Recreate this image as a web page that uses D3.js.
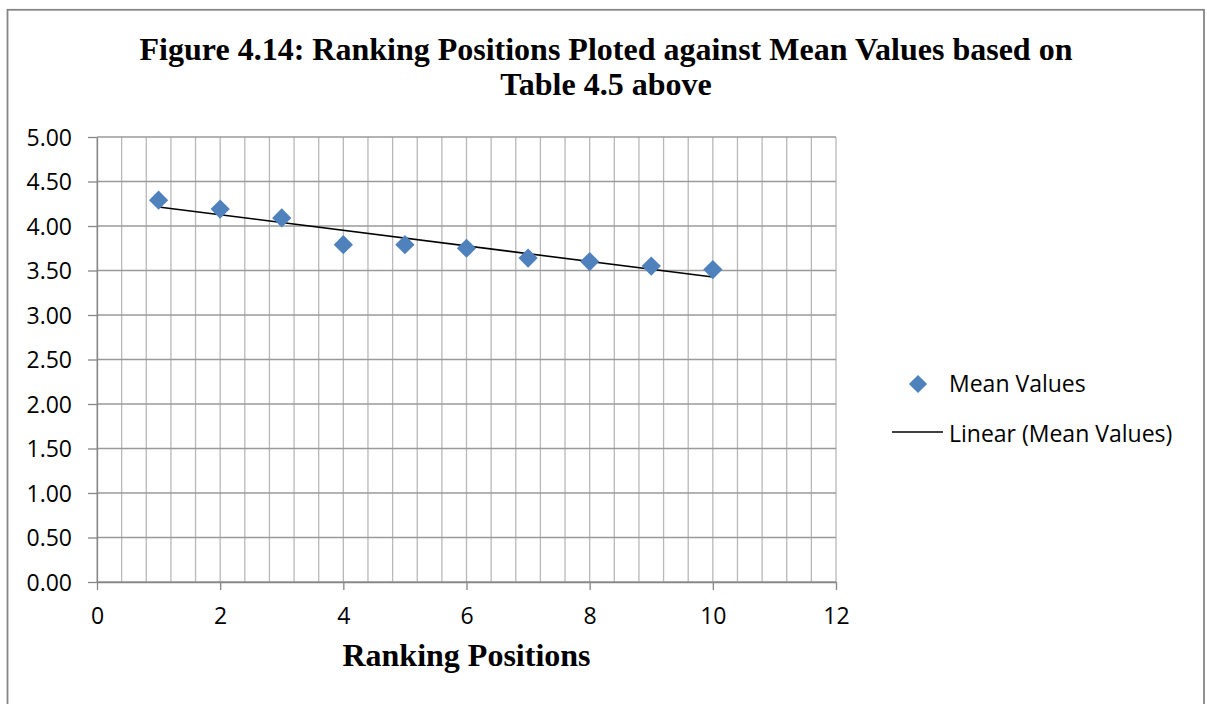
<!DOCTYPE html>
<html>
<head>
<meta http-equiv="Content-Type" content="text/html;charset=utf-8"/>
<script src="https://d3js.org/d3.v7.min.js"></script>
<style type="text/css">
body {
  margin: 0;
  background: #fff;
}
.frame {
  fill: #fff;
  stroke: #868686;
  stroke-width: 1.8px;
}
.grid line {
  stroke: #b8b8b8;
  stroke-width: 1.3px;
}
.grid .major {
  stroke: #9a9a9a;
}
.axis path, .axis line {
  stroke: #868686;
  stroke-width: 1.3px;
}
.axis text, .legend text {
  font-family: "Open Sans", sans-serif;
  font-size: 23px;
  fill: #000;
}
.title, .xtitle {
  font-family: "Liberation Serif", "Times New Roman", serif;
  font-weight: bold;
  font-size: 32px;
  fill: #000;
}
.point {
  fill: #4F81BD;
}
.trend {
  fill: none;
  stroke: #000;
  stroke-width: 1.6px;
}
</style>
</head>

<body>
<script>

// data
var ranks = [1, 2, 3, 4, 5, 6, 7, 8, 9, 10];
var meanValues = [4.29, 4.19, 4.09, 3.79, 3.79, 3.75, 3.64, 3.60, 3.55, 3.51];

var xTicks = [0, 2, 4, 6, 8, 10, 12];
var yTicks = [0, 0.5, 1, 1.5, 2, 2.5, 3, 3.5, 4, 4.5, 5];

var titleLines = ["Figure 4.14: Ranking Positions Ploted against Mean Values based on",
                  "Table 4.5 above"];
var xTitle = "Ranking Positions";
var legendLabels = ["Mean Values", "Linear (Mean Values)"];

var width = 1207, height = 704;

var x = d3.scaleLinear().domain([0, 12]).range([97, 836]);
var y = d3.scaleLinear().domain([0, 5]).range([582, 137]);

var svg = d3.select("body").append("svg")
    .attr("width", width)
    .attr("height", height);

svg.append("rect")
    .attr("class", "frame")
    .attr("x", 7.5)
    .attr("y", 9.8)
    .attr("width", 1196.5)
    .attr("height", 720);

// title
svg.selectAll(".title")
    .data(titleLines)
  .enter().append("text")
    .attr("class", "title")
    .attr("x", 606)
    .attr("y", function(d, i) { return 59.5 + i * 35; })
    .attr("text-anchor", "middle")
    .text(function(d) { return d; });

// gridlines: minor verticals every 0.4, horizontals at every y tick
var vGrid = d3.range(0, 31).map(function(i) { return i * 0.4; });

var grid = svg.append("g").attr("class", "grid");

grid.selectAll(".v")
    .data(vGrid)
  .enter().append("line")
    .attr("class", "v")
    .attr("x1", function(d) { return x(d); })
    .attr("x2", function(d) { return x(d); })
    .attr("y1", y(0))
    .attr("y2", y(5));

grid.selectAll(".h")
    .data(yTicks)
  .enter().append("line")
    .attr("class", "h major")
    .attr("x1", x(0))
    .attr("x2", x(12))
    .attr("y1", function(d) { return y(d); })
    .attr("y2", function(d) { return y(d); });

// axes
var yAxis = svg.append("g")
    .attr("class", "axis")
    .attr("transform", "translate(" + x(0) + ",0)")
    .call(d3.axisLeft(y).tickValues(yTicks).tickFormat(d3.format(".2f")).tickSize(9).tickSizeOuter(0).tickPadding(16));
yAxis.selectAll("text").attr("dy", "0.36em");

var xAxis = svg.append("g")
    .attr("class", "axis")
    .attr("transform", "translate(0," + y(0) + ")")
    .call(d3.axisBottom(x).tickValues(xTicks).tickSize(8).tickSizeOuter(0).tickPadding(18));

svg.append("text")
    .attr("class", "xtitle")
    .attr("x", (x(0) + x(12)) / 2)
    .attr("y", 666)
    .attr("text-anchor", "middle")
    .text(xTitle);

// least squares trend line
var mx = d3.mean(ranks), my = d3.mean(meanValues);
var sxy = d3.sum(ranks, function(r, i) { return (r - mx) * (meanValues[i] - my); });
var sxx = d3.sum(ranks, function(r) { return (r - mx) * (r - mx); });
var slope = sxy / sxx, intercept = my - slope * mx;
var xr = d3.extent(ranks);

svg.append("path")
    .datum(xr)
    .attr("class", "trend")
    .attr("d", d3.line()
        .x(function(d) { return x(d); })
        .y(function(d) { return y(intercept + slope * d); }));

// markers
var diamond = d3.symbol().type(d3.symbolSquare).size(185);

svg.selectAll(".point")
    .data(ranks)
  .enter().append("path")
    .attr("class", "point")
    .attr("d", diamond)
    .attr("transform", function(d, i) {
      return "translate(" + x(d) + "," + y(meanValues[i]) + ") rotate(45)";
    });

// legend
var legend = svg.append("g").attr("class", "legend");

legend.append("path")
    .attr("class", "point")
    .attr("d", d3.symbol().type(d3.symbolSquare).size(165))
    .attr("transform", "translate(918,384) rotate(45)");

legend.append("line")
    .attr("x1", 892).attr("x2", 943)
    .attr("y1", 432).attr("y2", 432)
    .attr("stroke", "#000")
    .attr("stroke-width", 1.6);

legend.selectAll("text")
    .data(legendLabels)
  .enter().append("text")
    .attr("x", 949)
    .attr("y", function(d, i) { return 392 + i * 50; })
    .text(function(d) { return d; });

</script>
</body>
</html>
